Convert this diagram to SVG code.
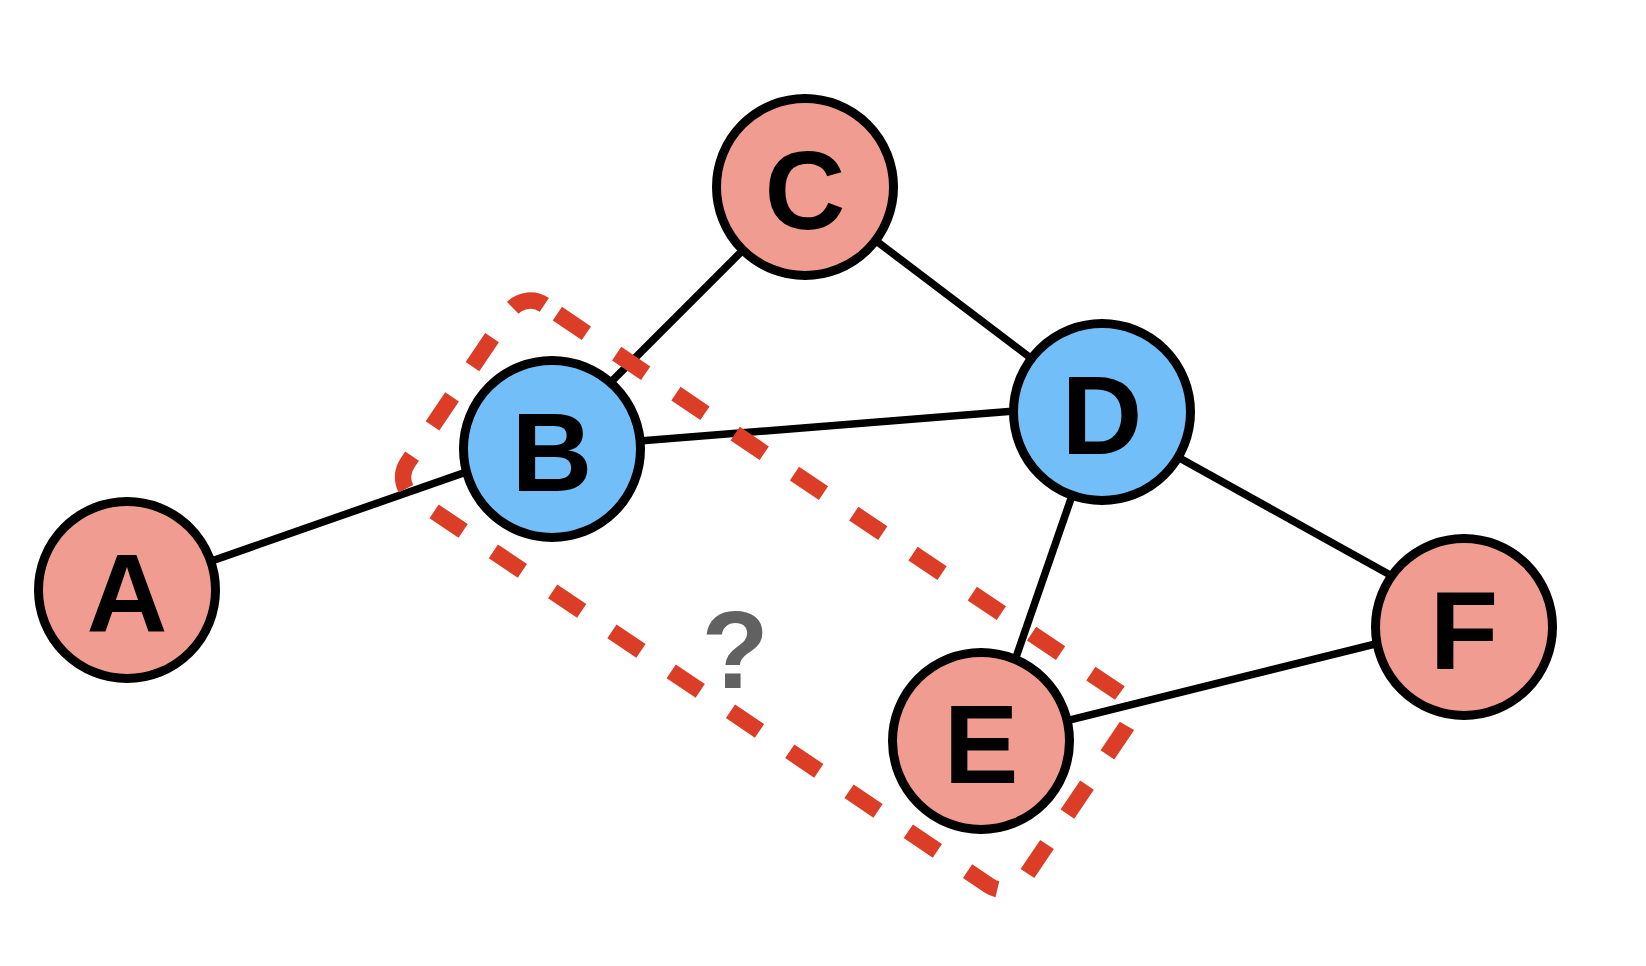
<svg xmlns="http://www.w3.org/2000/svg" width="1646" height="966" viewBox="0 0 1646 966">
  <style>
    .edge { stroke: #000; stroke-width: 7.5; fill: none; }
    .node circle { stroke: #000; stroke-width: 9; }
    .red circle { fill: #F19C91; }
    .blue circle { fill: #72BEF8; }
    .node text { font-family: "Liberation Sans", Arial, sans-serif; font-weight: bold; font-size: 112px; text-anchor: middle; fill: #000; }
    .loop { fill: none; stroke: #DC3D26; stroke-width: 16.5; stroke-dasharray: 35 36.5; stroke-dashoffset: 55.75; }
    .q { font-family: "Liberation Sans", Arial, sans-serif; font-weight: bold; font-size: 110px; text-anchor: middle; fill: #616161; }
  </style>
  <rect width="1646" height="966" fill="#fff"/>
  <g id="connectors">
    <line class="edge" x1="127" y1="590.5" x2="552" y2="442"/>
    <line class="edge" x1="552" y1="441" x2="805" y2="188"/>
    <line class="edge" x1="805" y1="187" x2="1102" y2="412"/>
    <line class="edge" x1="552" y1="448" x2="1102" y2="404"/>
    <line class="edge" x1="1101" y1="412" x2="987" y2="741"/>
    <line class="edge" x1="1102" y1="415" x2="1464" y2="616"/>
    <line class="edge" x1="981" y1="742" x2="1464" y2="622"/>
  </g>
  <g id="highlight">
    <path class="loop" transform="translate(766.7 595.3) rotate(34)" d="M -346.75 -116.4 H 346.75 A 25 25 0 0 1 371.75 -91.4 V 91.4 A 25 25 0 0 1 346.75 116.4 H -346.75 A 25 25 0 0 1 -371.75 91.4 V -91.4 A 25 25 0 0 1 -346.75 -116.4 Z"/>
  </g>
  <g id="node-A" class="node red">
    <circle cx="127" cy="590" r="88.5"/>
    <text x="127" y="631.5">A</text>
  </g>
  <g id="node-B" class="node blue">
    <circle cx="552" cy="449" r="88.5"/>
    <text x="552" y="490.5">B</text>
  </g>
  <g id="node-C" class="node red">
    <circle cx="805" cy="187" r="88.5"/>
    <text x="805" y="228.5">C</text>
  </g>
  <g id="node-D" class="node blue">
    <circle cx="1102" cy="412" r="88.5"/>
    <text x="1102" y="453.5">D</text>
  </g>
  <g id="node-E" class="node red">
    <circle cx="981" cy="741" r="88.5"/>
    <text x="981" y="782.5">E</text>
  </g>
  <g id="node-F" class="node red">
    <circle cx="1464" cy="627" r="88.5"/>
    <text x="1464" y="668.5">F</text>
  </g>
  <text class="q" x="735" y="688">?</text>
</svg>
